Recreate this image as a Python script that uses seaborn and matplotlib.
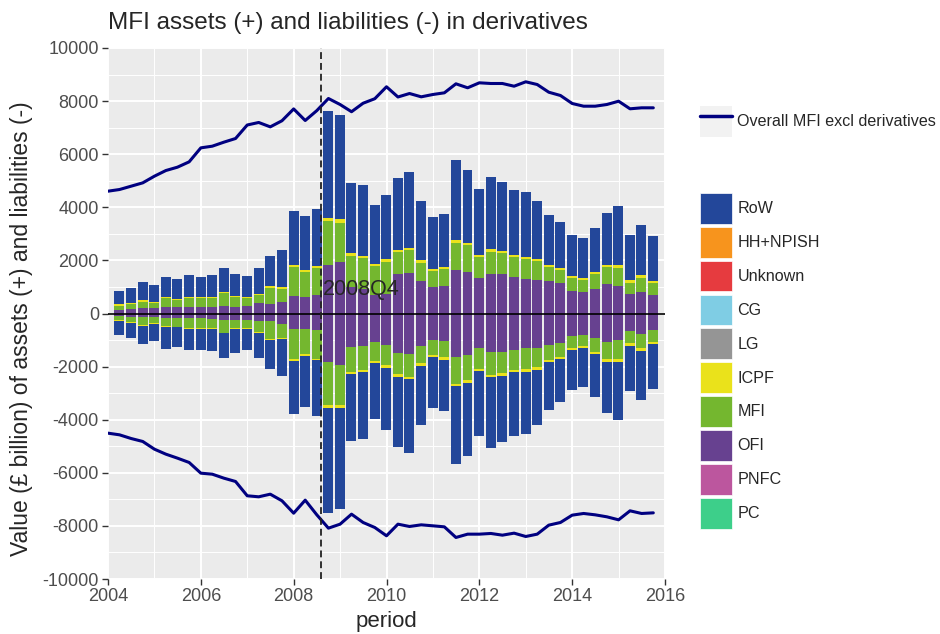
import numpy as np
import pandas as pd
import matplotlib
matplotlib.use('Agg')
import matplotlib.pyplot as plt
from matplotlib.patches import Patch
from matplotlib.lines import Line2D
from matplotlib.ticker import MultipleLocator
import seaborn as sns

## quarterly bars are dated at quarter end, the overall MFI line at quarter start
bar_dates = pd.date_range('2004-03-31', periods=47, freq='QE')
line_dates = pd.date_range('2004-01-01', periods=48, freq='QS')

sectors = ['RoW', 'HH+NPISH', 'Unknown', 'CG', 'LG', 'ICPF', 'MFI', 'OFI', 'PNFC', 'PC']
sector_colours = ['#23479A', '#F7941D', '#E63B3F', '#7FCDE4', '#959595',
                  '#EAE21B', '#74B72F', '#674190', '#BC569E', '#3DCF8A']

## assets (+), £ billion
assets_ofi = [150, 176, 200, 200, 240, 240, 250, 250, 250, 276, 250, 276, 402, 340, 440, 652,
              615, 678, 1820, 1933, 992, 929, 678, 716, 1469, 1532, 1218, 1004, 1054, 1632,
              1569, 1331, 1506, 1469, 1381, 1306, 1255, 1218, 1130, 866, 816, 929, 1105, 1029,
              716, 816, 678]
assets_mfi = [150, 186, 250, 200, 335, 272, 325, 325, 325, 487, 362, 299, 298, 630, 492, 1108,
              957, 1044, 1653, 1487, 1178, 1151, 1112, 1234, 831, 848, 692, 596, 606, 1038,
              1001, 789, 824, 791, 739, 734, 725, 532, 490, 454, 444, 541, 645, 691,
              444, 534, 452]
assets_icpf = [40, 40, 40, 40, 40, 40, 40, 40, 40, 40, 40, 40, 40, 60, 60, 60,
               60, 60, 130, 130, 90, 90, 90, 90, 90, 90, 90, 90, 90, 90,
               90, 90, 90, 90, 90, 90, 90, 90, 90, 90, 90, 90, 90, 90,
               90, 90, 90]
assets_row = [500, 565, 690, 652, 765, 753, 828, 765, 828, 917, 854, 790, 980, 1130, 1393, 2034,
              2058, 2172, 4042, 3944, 2661, 2688, 2225, 2416, 2719, 2865, 2256, 1938, 2004, 3015,
              2763, 2498, 2714, 2596, 2460, 2465, 2173, 1863, 1730, 1565, 1500, 1666, 1951, 2232,
              1700, 1887, 1692]

## liabilities (-), £ billion (magnitudes)
liab_ofi = [88, 125, 150, 150, 176, 176, 176, 176, 200, 226, 226, 226, 276, 276, 377, 590,
            590, 628, 1820, 1933, 1255, 1218, 1067, 1192, 1469, 1532, 1218, 992, 1054, 1632,
            1556, 1306, 1444, 1444, 1381, 1306, 1306, 1180, 1105, 854, 828, 904, 1067, 1004,
            653, 778, 628]
liab_mfi = [158, 184, 284, 222, 296, 321, 384, 384, 360, 497, 334, 334, 437, 666, 539, 1132,
            944, 1069, 1610, 1497, 940, 914, 726, 752, 826, 851, 663, 575, 601, 1027,
            953, 788, 876, 813, 751, 801, 726, 575, 525, 437, 400, 538, 651, 714,
            475, 538, 437]
liab_icpf = [30, 30, 30, 30, 30, 30, 30, 30, 30, 30, 30, 30, 40, 50, 50, 60,
             60, 60, 130, 130, 90, 90, 90, 90, 90, 90, 90, 90, 90, 90,
             90, 90, 90, 90, 90, 90, 90, 90, 90, 90, 90, 90, 90, 90,
             90, 90, 90]
liab_row = [527, 565, 666, 627, 841, 728, 791, 766, 816, 929, 879, 791, 929, 1105, 1381, 2009,
            1946, 2097, 3960, 3809, 2510, 2510, 2097, 2347, 2661, 2799, 2222, 1908, 1946, 2925,
            2761, 2448, 2662, 2511, 2385, 2348, 2071, 1796, 1632, 1494, 1444, 1631, 1946, 2196,
            1694, 1858, 1707]

## overall MFI balance sheet excluding derivatives
mfi_assets = [4607, 4670, 4795, 4921, 5172, 5385, 5511, 5712, 6239, 6302, 6453, 6591,
              7100, 7195, 7030, 7260, 7705, 7269, 7640, 8098, 7872, 7600, 7920, 8090,
              8540, 8155, 8286, 8161, 8249, 8312, 8651, 8501, 8689, 8663, 8663, 8561,
              8727, 8625, 8335, 8211, 7910, 7808, 7808, 7872, 7996, 7710, 7747, 7747]
mfi_liabilities = [-4507, -4570, -4708, -4820, -5110, -5298, -5448, -5611, -6014, -6052, -6202, -6327,
                   -6866, -6904, -6805, -7054, -7521, -7030, -7580, -8085, -7935, -7558, -7871, -8060,
                   -8373, -7935, -8022, -7960, -7997, -8035, -8436, -8311, -8311, -8285, -8349, -8273,
                   -8399, -8311, -7972, -7871, -7595, -7532, -7583, -7658, -7771, -7432, -7532, -7508]

crisis_x = 2008.58
crisis_label = '2008Q4'


def dec_year(d):
    return d.year + (d.dayofyear - 1) / np.where(d.is_leap_year, 366, 365)


bar_x = dec_year(bar_dates)
line_x = dec_year(line_dates)
colour = dict(zip(sectors, sector_colours))

sns.set_theme(style='darkgrid', rc={'axes.facecolor': '#EBEBEB', 'grid.color': 'white'})
plt.rcParams['font.family'] = ['Liberation Sans', 'DejaVu Sans']
plt.rcParams['axes.unicode_minus'] = False

fig = plt.figure(figsize=(9.4, 6.34), dpi=100)
ax = fig.add_axes([108 / 940, 1 - 579 / 634, 557 / 940, 531 / 634])

## stacked bars, OFI nearest zero then MFI, ICPF, RoW
width = 0.215
stack_pos = [('OFI', assets_ofi), ('MFI', assets_mfi), ('ICPF', assets_icpf), ('RoW', assets_row)]
bottom = np.zeros(len(bar_x))
for name, vals in stack_pos:
    vals = np.array(vals, dtype=float)
    ax.bar(bar_x, vals, width=width, bottom=bottom, color=colour[name], linewidth=0, zorder=2)
    bottom += vals

stack_neg = [('OFI', liab_ofi), ('MFI', liab_mfi), ('ICPF', liab_icpf), ('RoW', liab_row)]
bottom = np.zeros(len(bar_x))
for name, vals in stack_neg:
    vals = -np.array(vals, dtype=float)
    ax.bar(bar_x, vals, width=width, bottom=bottom, color=colour[name], linewidth=0, zorder=2)
    bottom += vals

line_df = pd.DataFrame({'period': line_x, 'assets': mfi_assets, 'liabilities': mfi_liabilities})
sns.lineplot(data=line_df, x='period', y='assets', color='#000080', linewidth=2.2, ax=ax, zorder=3)
sns.lineplot(data=line_df, x='period', y='liabilities', color='#000080', linewidth=2.2, ax=ax, zorder=3)

ax.axhline(0, color='black', linewidth=1.2, zorder=4)
ax.axvline(crisis_x, color='#222222', linewidth=1.3, linestyle=(0, (3.8, 2.2)), zorder=4)
ax.text(crisis_x + 0.04, 900, crisis_label, fontsize=15.5, ha='left', va='center', zorder=5)

ax.set_xlim(2004, 2016)
ax.set_ylim(-10000, 10000)
ax.xaxis.set_major_locator(MultipleLocator(2))
ax.xaxis.set_minor_locator(MultipleLocator(1))
ax.yaxis.set_major_locator(MultipleLocator(2000))
ax.yaxis.set_minor_locator(MultipleLocator(1000))
ax.grid(which='major', color='white', linewidth=1.4)
ax.grid(which='minor', color='white', linewidth=0.7)
ax.set_axisbelow(True)
for s in ax.spines.values():
    s.set_visible(False)
ax.tick_params(which='major', length=4.5, width=1, color='#333333', labelsize=13,
               labelcolor='#4D4D4D', pad=2, bottom=True, left=True)
ax.tick_params(which='minor', length=0)
ax.set_xlabel('')
ax.set_ylabel('')

fig.text(108 / 940, 1 - 29 / 634, 'MFI assets (+) and liabilities (-) in derivatives',
         fontsize=17.5, ha='left', va='baseline')
fig.text(22 / 940, 1 - 329 / 634, 'Value (£ billion) of assets (+) and liabilities (-)',
         fontsize=16.5, rotation=90, ha='center', va='center')
fig.text(386 / 940, 1 - 622 / 634, 'period', fontsize=16, ha='center', va='center')

## legends
leg_kw = dict(loc='upper left', frameon=False, fontsize=11.6, handlelength=2.0,
              handleheight=2.55, handletextpad=0.32, labelspacing=0.2,
              borderpad=0, borderaxespad=0)
line_handle = (Patch(facecolor='#F2F2F2', edgecolor='none'),
               Line2D([], [], color='#000080', linewidth=2.5))
fig.legend([line_handle], ['Overall MFI excl derivatives'],
           bbox_to_anchor=(700 / 940, 1 - 106 / 634), **leg_kw)

fill_handles = [Patch(facecolor=colour[s], edgecolor='white', linewidth=0.5) for s in sectors]
fig.legend(fill_handles, sectors, bbox_to_anchor=(700 / 940, 1 - 193 / 634), **leg_kw)

fig.savefig('out.png', dpi=100)
